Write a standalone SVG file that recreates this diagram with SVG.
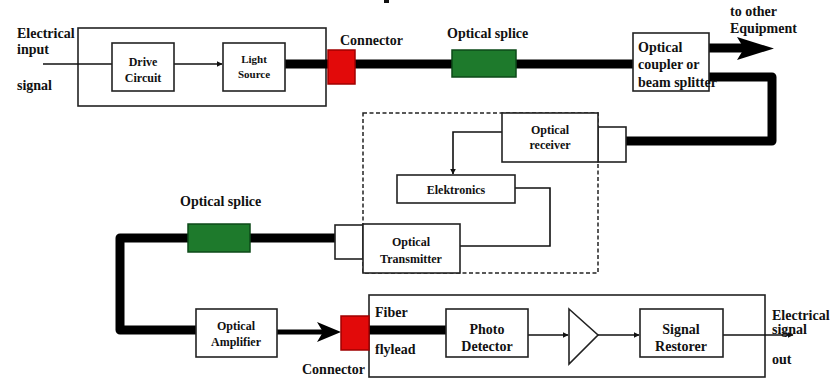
<svg xmlns="http://www.w3.org/2000/svg" width="830" height="379" viewBox="0 0 830 379">
<defs>
<style>
.box{fill:#fff;stroke:#222;stroke-width:1.6}
.frame{fill:none;stroke:#222;stroke-width:1.6}
.t{font-family:"Liberation Serif","Times New Roman",serif;font-weight:bold;font-size:14px;fill:#111}
.s{font-size:12px}
.c{text-anchor:middle}
.fiber{fill:none;stroke:#000;stroke-width:9;stroke-linejoin:round}
.thin{fill:none;stroke:#111;stroke-width:1.6}
.red{fill:#e20a0a;stroke:#a00000;stroke-width:1.5}
.green{fill:#1e7a2c;stroke:#0d4a18;stroke-width:1.5}
</style>
<marker id="ah" viewBox="0 0 10 10" refX="9" refY="5" markerWidth="6" markerHeight="6" markerUnits="userSpaceOnUse" orient="auto">
<path d="M0,0 L10,5 L0,10 z" fill="#111"/>
</marker>
</defs>
<rect width="830" height="379" fill="#fff"/>
<rect x="384" y="0" width="5" height="3" fill="#111"/>

<g id="dashed-repeater">
<rect x="363" y="113" width="235" height="160" fill="none" stroke="#222" stroke-width="1.5" stroke-dasharray="4,2.5"/>
</g>
<g id="transmitter-unit">
<rect class="frame" x="78" y="28" width="248" height="78"/>
</g>
<g id="receiver-unit">
<rect class="frame" x="369" y="295" width="396" height="82"/>
<text class="t" x="375" y="317">Fiber</text>
<text class="t" x="375" y="354">flylead</text>
</g>

<g id="connectors">
<line class="thin" x1="43" y1="64" x2="112" y2="64"/>
<line class="thin" x1="174" y1="64" x2="222" y2="64" marker-end="url(#ah)"/>
<polyline class="fiber" points="285,64 633,64"/>
<line x1="709" y1="48" x2="745" y2="48" stroke="#000" stroke-width="9"/>
<polygon points="737,37 774,48.5 737,60 744,48.5" fill="#000"/>
<polyline class="fiber" points="709,77 772,77 772,141 626,141"/>
<polyline class="thin" points="502,132 453,132 453,174" marker-end="url(#ah)"/>
<polyline class="thin" points="515,188 550,188 550,246 460,246"/>
<polyline class="fiber" points="335,238 120,238 120,330 196,330"/>
<line x1="277" y1="332" x2="325" y2="332" stroke="#000" stroke-width="5"/>
<polygon points="317,322 341,332 317,342 323,332" fill="#000"/>
<line x1="369" y1="330" x2="446" y2="330" stroke="#000" stroke-width="9"/>
<line class="thin" x1="528" y1="335" x2="568" y2="335" marker-end="url(#ah)"/>
<line class="thin" x1="598" y1="335" x2="639" y2="335" marker-end="url(#ah)"/>
<line class="thin" x1="723" y1="335" x2="793" y2="335" marker-end="url(#ah)"/>
</g>

<g id="label-input">
<text class="t" x="17" y="38">Electrical</text>
<text class="t" x="17" y="54">input</text>
<text class="t" x="17" y="90">signal</text>
</g>
<g id="drive-circuit">
<rect class="box" x="112" y="43" width="62" height="48"/>
<text class="t c s" x="143" y="66">Drive</text>
<text class="t c s" x="143" y="82">Circuit</text>
</g>
<g id="light-source">
<rect class="box" x="223" y="43" width="62" height="48"/>
<text class="t c s" x="254" y="63" style="font-size:11px">Light</text>
<text class="t c s" x="254" y="78" style="font-size:11px">Source</text>
</g>
<g id="connector-1">
<rect class="red" x="328" y="50" width="27" height="34"/>
<text class="t" x="340" y="45">Connector</text>
</g>
<g id="splice-1">
<rect class="green" x="452" y="50" width="64" height="27"/>
<text class="t" x="447" y="38">Optical splice</text>
</g>
<g id="coupler">
<rect class="box" x="633" y="33" width="76" height="58"/>
<text class="t" x="638" y="52">Optical</text>
<text class="t" x="638" y="69">coupler or</text>
<text class="t" x="638" y="87">beam splitter</text>
</g>
<g id="label-equipment">
<text class="t" x="730" y="16">to other</text>
<text class="t" x="730" y="33">Equipment</text>
</g>
<g id="optical-receiver">
<rect class="box" x="598" y="127" width="28" height="35"/>
<rect class="box" x="502" y="113" width="96" height="49"/>
<text class="t c s" x="550" y="134">Optical</text>
<text class="t c s" x="550" y="149">receiver</text>
</g>
<g id="elektronics">
<rect class="box" x="397" y="175" width="118" height="28"/>
<text class="t c s" x="456" y="194">Elektronics</text>
</g>
<g id="optical-transmitter">
<rect class="box" x="335" y="225" width="28" height="34"/>
<rect class="box" x="363" y="224" width="97" height="49"/>
<text class="t c s" x="411" y="246">Optical</text>
<text class="t c s" x="411" y="263">Transmitter</text>
</g>
<g id="splice-2">
<rect class="green" x="188" y="224" width="62" height="28"/>
<text class="t" x="180" y="206">Optical splice</text>
</g>
<g id="optical-amplifier">
<rect class="box" x="196" y="309" width="81" height="48"/>
<text class="t c s" x="236" y="330">Optical</text>
<text class="t c s" x="236" y="346">Amplifier</text>
</g>
<g id="connector-2">
<rect class="red" x="341" y="316" width="28" height="34"/>
<text class="t" x="302" y="374">Connector</text>
</g>
<g id="photo-detector">
<rect class="box" x="446" y="309" width="82" height="48"/>
<text class="t c" x="487" y="334">Photo</text>
<text class="t c" x="487" y="351">Detector</text>
</g>
<g id="amplifier">
<polygon points="569,309 598,335 569,364" fill="#fff" stroke="#222" stroke-width="1.6"/>
</g>
<g id="signal-restorer">
<rect class="box" x="640" y="309" width="83" height="48"/>
<text class="t c" x="681" y="334">Signal</text>
<text class="t c" x="681" y="351">Restorer</text>
</g>
<g id="label-output">
<text class="t" x="772" y="320">Electrical</text>
<text class="t" x="772" y="334">signal</text>
<text class="t" x="772" y="364">out</text>
</g>
</svg>
